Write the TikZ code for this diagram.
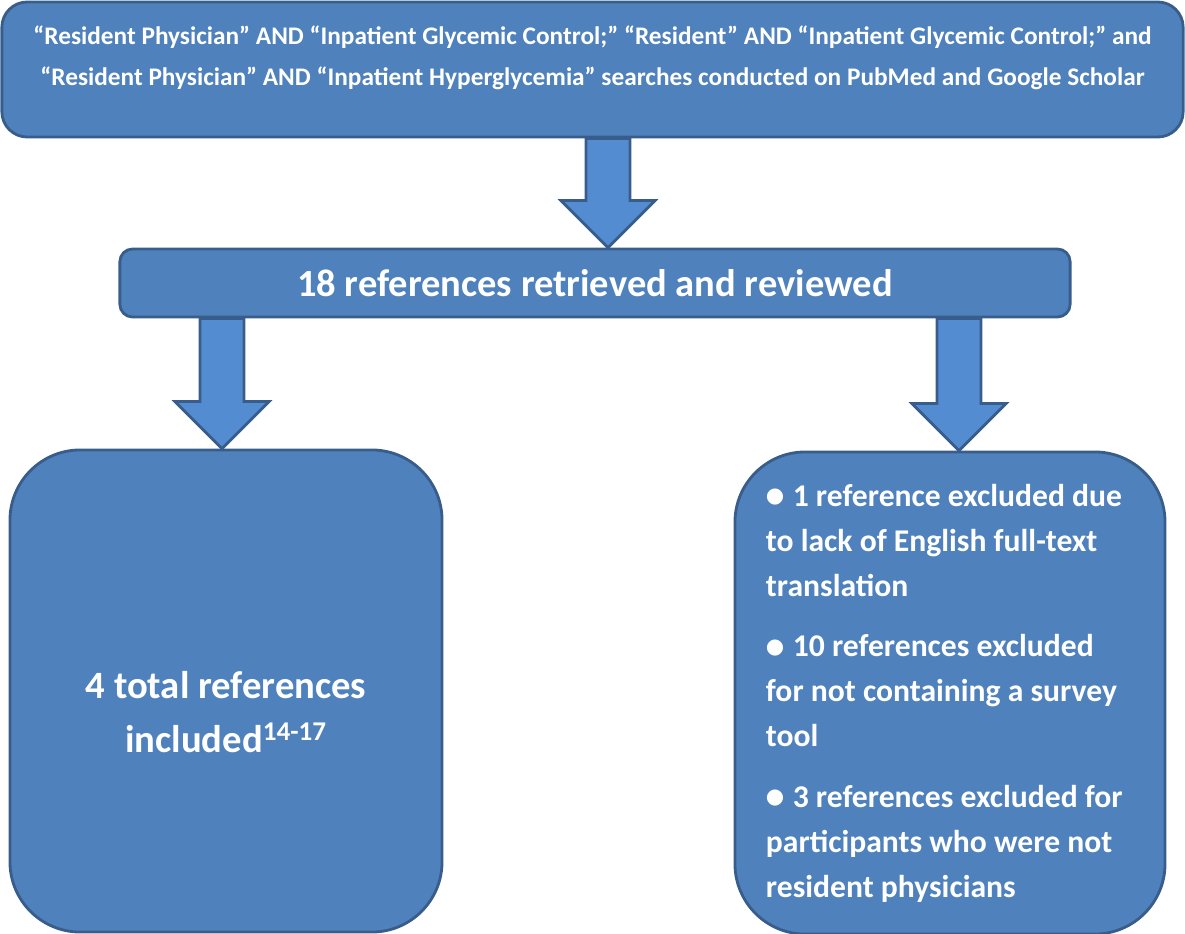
\documentclass[tikz,border=0pt]{standalone}
\usepackage{fontspec}
\setmainfont{Carlito}
\newfontfamily\dotfont{DejaVu Sans}
\usetikzlibrary{calc}
\definecolor{boxblue}{RGB}{79,129,189}
\definecolor{edgeblue}{RGB}{56,93,138}
\definecolor{arrowblue}{RGB}{84,140,210}

% block arrow pointing down: #1 = x of its axis, #2 = source node, #3 = target node
\newcommand{\flowarrow}[3]{%
  \draw[fatarrow] ($(#1,0 |- #2.south)+(-22,0)$) -- ($(#1,0 |- #2.south)+(22,0)$)
    -- ($(#1,0 |- #3.north)+(22,-47)$) -- ($(#1,0 |- #3.north)+(47,-47)$)
    -- (#1,0 |- #3.north)
    -- ($(#1,0 |- #3.north)+(-47,-47)$) -- ($(#1,0 |- #3.north)+(-22,-47)$) -- cycle;}
\newcommand{\bul}{\raisebox{2.5pt}{\dotfont\fontsize{15}{15}\selectfont\char"25CF}\hspace{6pt}}

\begin{document}
\begin{tikzpicture}[x=0.025cm,y=-0.025cm,
  box/.style={rectangle,draw=edgeblue,fill=boxblue,line width=2pt,text=white,font=\bfseries},
  fatarrow/.style={draw=edgeblue,fill=arrowblue,line width=2pt}]
  \useasboundingbox (0,0) rectangle (1185,934);
  \node[box,rounded corners=18pt,minimum width=29.525cm,minimum height=3.375cm,
    font=\bfseries\fontsize{18}{29}\selectfont] (search) at (592.5,69.5)
    {\raisebox{4.5pt}[0pt][0pt]{\begin{tabular}{@{}c@{}}“Resident Physician” AND “Inpatient Glycemic Control;” “Resident” AND “Inpatient Glycemic Control;” and\\
     “Resident Physician” AND “Inpatient Hyperglycemia” searches conducted on PubMed and Google Scholar\end{tabular}}};
  \node[box,rounded corners=9pt,minimum width=23.75cm,minimum height=1.7cm,
    font=\bfseries\fontsize{27.4}{32}\selectfont] (retrieved) at (595,283)
    {18 references retrieved and reviewed};
  \node[box,rounded corners=50pt,minimum width=10.8cm,minimum height=12.05cm,align=center,
    font=\bfseries\fontsize{27.5}{39}\selectfont] (included) at (226,691)
    {\raisebox{-23pt}[0pt][0pt]{\begin{tabular}{@{}c@{}}4 total references\\ included\textsuperscript{14-17}\end{tabular}}};
  \node[box,rounded corners=50pt,minimum width=10.75cm,minimum height=12.05cm,align=flush left,
    text width=9.2cm,font=\bfseries\fontsize{22.5}{32}\selectfont] (excluded) at (950,693)
    {\bul 1 reference excluded due to lack of English full-text translation\\[11pt]
     \bul 10 references excluded for not containing a survey tool\\[11pt]
     \bul 3 references excluded for participants who were not resident physicians};
  \flowarrow{608}{search}{retrieved}
  \flowarrow{222}{retrieved}{included}
  \flowarrow{959}{retrieved}{excluded}
\end{tikzpicture}
\end{document}
